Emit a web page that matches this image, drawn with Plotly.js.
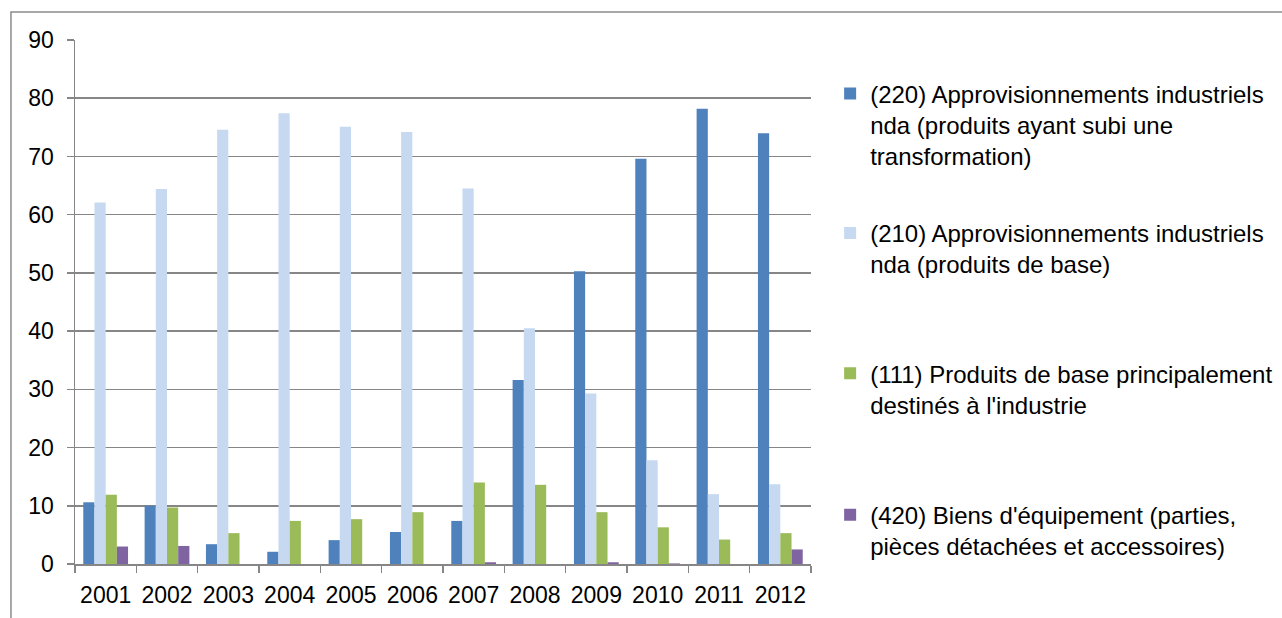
<!DOCTYPE html>
<html>
<head>
<meta charset="utf-8">
<script src="https://cdn.plot.ly/plotly-3.0.1.min.js"></script>
<style>
html,body{margin:0;padding:0;background:#fff;}
#chart{width:1282px;height:618px;}
</style>
</head>
<body>
<div id="chart"></div>
<script>
const years = ['2001','2002','2003','2004','2005','2006','2007','2008','2009','2010','2011','2012'];
const s220 = [10.6, 10.0, 3.4, 2.1, 4.1, 5.5, 7.4, 31.6, 50.3, 69.6, 78.2, 74.0];
const s210 = [62.1, 64.4, 74.6, 77.4, 75.1, 74.2, 64.5, 40.5, 29.3, 17.8, 12.0, 13.7];
const s111 = [11.9, 9.7, 5.3, 7.4, 7.7, 8.9, 14.0, 13.6, 8.9, 6.3, 4.2, 5.3];
const s420 = [3.0, 3.1, 0, 0, 0, 0, 0.3, 0, 0.3, 0.1, 0, 2.5];
const names = [
  '(220) Approvisionnements industriels<br>nda (produits ayant subi une<br>transformation)',
  '(210) Approvisionnements industriels<br>nda (produits de base)',
  '(111) Produits de base principalement<br>destinés à l\'industrie',
  '(420) Biens d\'équipement (parties,<br>pièces détachées et accessoires)'
];
const colors = ['#4F81BD', '#C6D9F1', '#9BBB59', '#8064A2'];
const series = [s220, s210, s111, s420];
const legendIds = ['legend', 'legend2', 'legend3', 'legend4'];

const traces = series.map((vals, i) => ({
  type: 'bar',
  x: years,
  y: vals,
  name: names[i],
  legend: legendIds[i],
  marker: {color: colors[i], line: {width: 0}},
  hoverinfo: 'x+y'
}));

const fam = '"Liberation Sans", Arial, sans-serif';
const font = {family: fam, size: 23, color: '#000'};
const legFont = {family: fam, size: 24, color: '#000'};
const legBase = {xanchor: 'left', yanchor: 'top', x: 1.026, font: legFont, valign: 'top',
  bgcolor: 'rgba(0,0,0,0)', borderwidth: 0, itemclick: false, itemdoubleclick: false};
const gridCol = '#868686';

const layout = {
  width: 1282, height: 618,
  margin: {l: 75, r: 471, t: 40, b: 54, autoexpand: false},
  paper_bgcolor: '#fff', plot_bgcolor: '#fff',
  font: font,
  barmode: 'group',
  bargap: 0.27,
  bargroupgap: 0,
  showlegend: true,
  legend: Object.assign({}, legBase, {y: 0.94}),
  legend2: Object.assign({}, legBase, {y: 0.674}),
  legend3: Object.assign({}, legBase, {y: 0.406}),
  legend4: Object.assign({}, legBase, {y: 0.136}),
  xaxis: {
    type: 'category',
    showgrid: false,
    showline: true, linecolor: gridCol, linewidth: 1.5,
    ticks: 'outside', tickson: 'boundaries', ticklen: 7, tickcolor: gridCol, tickwidth: 1.5,
    tickfont: font, tickangle: 0,
    ticklabelstandoff: 10,
    fixedrange: true
  },
  yaxis: {
    range: [0, 90], dtick: 10, tick0: 0,
    showgrid: true, gridcolor: gridCol, gridwidth: 1.5,
    showline: true, linecolor: gridCol, linewidth: 1.5,
    ticks: 'outside', ticklen: 7, tickcolor: gridCol, tickwidth: 1.5,
    tickfont: font,
    ticklabelstandoff: 8,
    zeroline: false,
    fixedrange: true
  },
  shapes: [{
    type: 'rect', xref: 'paper', yref: 'paper',
    x0: -0.087, x1: 1.66, y0: -0.15, y1: 1.0535,
    line: {color: '#8c8c8c', width: 1.5}, fillcolor: 'rgba(0,0,0,0)', layer: 'below'
  }]
};

Plotly.newPlot('chart', traces, layout, {displayModeBar: false, staticPlot: true});
</script>
</body>
</html>
